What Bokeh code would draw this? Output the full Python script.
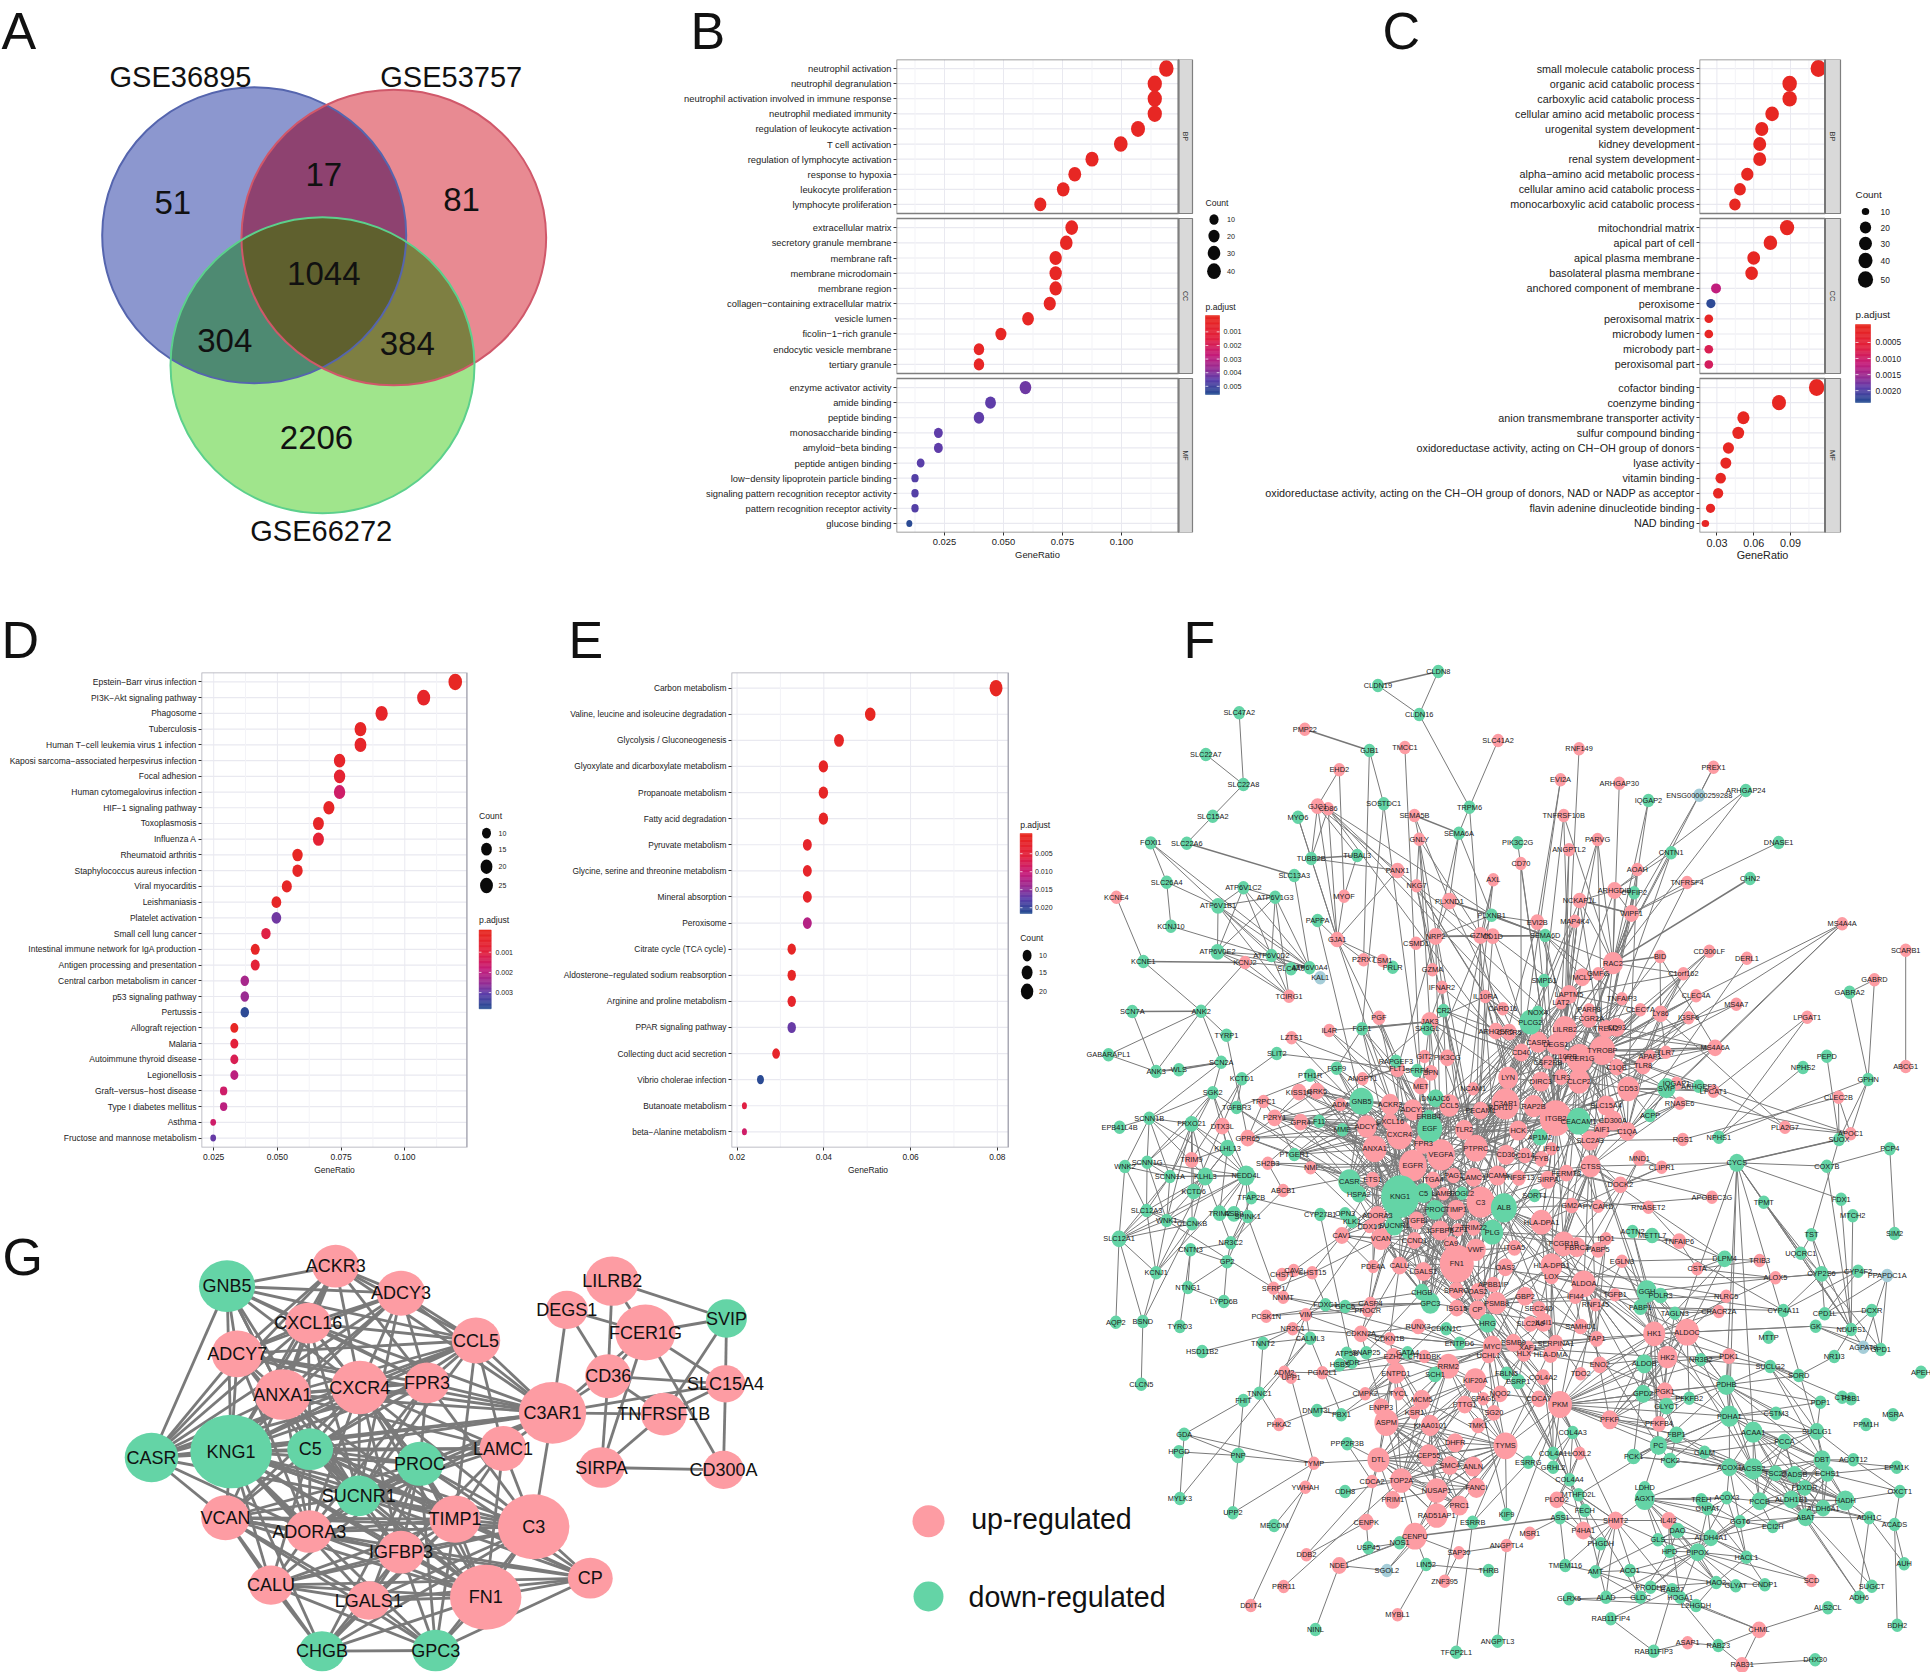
import numpy as np
from bokeh.plotting import figure
from bokeh.layouts import row, column
from bokeh.models import Range1d, FixedTicker, PrintfTickFormatter, LinearColorMapper, ColumnDataSource
from bokeh.core.properties import value
from bokeh.embed import file_html
from bokeh.resources import INLINE

FONT = "Liberation Sans"
M = "\u2212"

# ---------- panel A ----------
venn_sets = ["GSE36895", "GSE53757", "GSE66272"]
venn_only = [51, 81, 2206]
venn_pairs = [17, 304, 384]
venn_all = [1044]

# ---------- panel B ----------
b_bp = ["neutrophil activation", "neutrophil degranulation", "neutrophil activation involved in immune response",
        "neutrophil mediated immunity", "regulation of leukocyte activation", "T cell activation",
        "regulation of lymphocyte activation", "response to hypoxia", "leukocyte proliferation", "lymphocyte proliferation"]
b_bp_r = [.119, .1141, .1141, .1141, .107, .0997, .0875, .0802, .0753, .0656]
b_bp_c = [47, 45, 45, 45, 42, 39, 34, 32, 30, 26]
b_bp_p = [.0001, .0001, .0001, .0001, .0001, .0001, .0001, .0001, .0001, .0001]
b_cc = ["extracellular matrix", "secretory granule membrane", "membrane raft", "membrane microdomain", "membrane region",
        "collagen" + M + "containing extracellular matrix", "vesicle lumen", "ficolin" + M + "1" + M + "rich granule",
        "endocytic vesicle membrane", "tertiary granule"]
b_cc_r = [.0789, .0766, .0721, .0721, .0721, .0696, .0604, .0489, .0396, .0396]
b_cc_c = [31, 30, 28, 28, 28, 27, 24, 19, 16, 16]
b_cc_p = [.0001, .0001, .0001, .0001, .0001, .0001, .0001, .0001, .0002, .0002]
b_mf = ["enzyme activator activity", "amide binding", "peptide binding", "monosaccharide binding",
        "amyloid" + M + "beta binding", "peptide antigen binding", "low" + M + "density lipoprotein particle binding",
        "signaling pattern recognition receptor activity", "pattern recognition receptor activity", "glucose binding"]
b_mf_r = [.0593, .0445, .0396, .0224, .0224, .0149, .0125, .0125, .0125, .0101]
b_mf_c = [23, 18, 16, 9, 9, 6, 5, 5, 5, 4]
b_mf_p = [.0043, .0045, .0045, .0045, .0045, .0046, .0047, .0047, .0047, .0055]

# ---------- panel C ----------
c_bp = ["small molecule catabolic process", "organic acid catabolic process", "carboxylic acid catabolic process",
        "cellular amino acid metabolic process", "urogenital system development", "kidney development",
        "renal system development", "alpha" + M + "amino acid metabolic process", "cellular amino acid catabolic process",
        "monocarboxylic acid catabolic process"]
c_bp_r = [.1127, .0893, .0893, .075, .0666, .0649, .0649, .0548, .0488, .0447]
c_bp_c = [54, 43, 43, 36, 32, 31, 31, 26, 23, 21]
c_bp_p = [.00002, .00002, .00002, .00002, .00002, .00002, .00002, .00002, .00002, .00002]
c_cc = ["mitochondrial matrix", "apical part of cell", "apical plasma membrane", "basolateral plasma membrane",
        "anchored component of membrane", "peroxisome", "peroxisomal matrix", "microbody lumen", "microbody part", "peroxisomal part"]
c_cc_r = [.0872, .0736, .06, .0583, .0293, .0251, .0234, .0234, .0234, .0234]
c_cc_c = [42, 35, 29, 28, 14, 12, 11, 11, 11, 11]
c_cc_p = [.00002, .00002, .00005, .00005, .0012, .0023, .0001, .0001, .0008, .0009]
c_mf = ["cofactor binding", "coenzyme binding", "anion transmembrane transporter activity", "sulfur compound binding",
        "oxidoreductase activity, acting on CH" + M + "OH group of donors", "lyase activity", "vitamin binding",
        "oxidoreductase activity, acting on the CH" + M + "OH group of donors, NAD or NADP as acceptor",
        "flavin adenine dinucleotide binding", "NAD binding"]
c_mf_r = [.1113, .0806, .0516, .0474, .0394, .0373, .0331, .031, .0248, .0206]
c_mf_c = [53, 39, 25, 23, 19, 18, 16, 15, 12, 10]
c_mf_p = [.00002, .00002, .00002, .00002, .00005, .00005, .00005, .00005, .0001, .0001]

# ---------- panel D ----------
d_terms = ["Epstein" + M + "Barr virus infection", "PI3K" + M + "Akt signaling pathway", "Phagosome", "Tuberculosis",
           "Human T" + M + "cell leukemia virus 1 infection", "Kaposi sarcoma" + M + "associated herpesvirus infection",
           "Focal adhesion", "Human cytomegalovirus infection", "HIF" + M + "1 signaling pathway", "Toxoplasmosis",
           "Influenza A", "Rheumatoid arthritis", "Staphylococcus aureus infection", "Viral myocarditis", "Leishmaniasis",
           "Platelet activation", "Small cell lung cancer", "Intestinal immune network for IgA production",
           "Antigen processing and presentation", "Central carbon metabolism in cancer", "p53 signaling pathway", "Pertussis",
           "Allograft rejection", "Malaria", "Autoimmune thyroid disease", "Legionellosis", "Graft" + M + "versus" + M + "host disease",
           "Type I diabetes mellitus", "Asthma", "Fructose and mannose metabolism"]
d_count = [29, 26, 22, 20, 20, 18, 18, 18, 17, 16, 16, 14, 14, 13, 12, 12, 11, 10, 10, 9, 9, 9, 8, 8, 8, 8, 7, 7, 6, 6]
d_ratio = [.1198, .1074, .0909, .0826, .0826, .0744, .0744, .0744, .0702, .0661, .0661, .0579, .0579, .0537, .0496, .0496,
           .0455, .0413, .0413, .0372, .0372, .0372, .0331, .0331, .0331, .0331, .0289, .0289, .0248, .0248]
d_padj = [.0001, .0003, .0003, .0002, .0003, .0003, .0006, .0016, .0002, .0002, .0007, .0001, .0002, .0002, .0002, .0029,
          .0011, .0002, .0008, .0023, .0025, .0037, .0001, .0009, .0013, .0020, .0016, .0020, .0016, .0030]

# ---------- panel E ----------
e_terms = ["Carbon metabolism", "Valine, leucine and isoleucine degradation", "Glycolysis / Gluconeogenesis",
           "Glyoxylate and dicarboxylate metabolism", "Propanoate metabolism", "Fatty acid degradation", "Pyruvate metabolism",
           "Glycine, serine and threonine metabolism", "Mineral absorption", "Peroxisome", "Citrate cycle (TCA cycle)",
           "Aldosterone" + M + "regulated sodium reabsorption", "Arginine and proline metabolism", "PPAR signaling pathway",
           "Collecting duct acid secretion", "Vibrio cholerae infection", "Butanoate metabolism", "beta" + M + "Alanine metabolism"]
e_count = [22, 14, 12, 11, 11, 11, 10, 10, 10, 10, 9, 9, 9, 9, 8, 7, 6, 6]
e_ratio = [.0797, .0507, .0435, .0399, .0399, .0399, .0362, .0362, .0362, .0362, .0326, .0326, .0326, .0326, .029, .0254, .0217, .0217]
e_padj = [.0001, .0003, .001, .001, .001, .001, .002, .002, .002, .012, .001, .001, .002, .017, .002, .0212, .006, .009]

# ---------- panel G ----------
g_up = [("ACKR3", 657, 107, 92, 128), ("ADCY3", 785, 188, 95, 135), ("CXCL16", 603, 278, 90, 122), ("CCL5", 932, 330, 95, 138),
        ("ADCY7", 464, 370, 100, 140), ("ANXA1", 553, 492, 110, 152), ("CXCR4", 704, 471, 112, 160), ("FPR3", 836, 457, 88, 122),
        ("C3AR1", 1082, 547, 132, 185), ("LAMC1", 985, 654, 92, 135), ("VCAN", 441, 862, 95, 135), ("ADORA3", 605, 903, 90, 128),
        ("TIMP1", 891, 866, 100, 142), ("C3", 1045, 889, 140, 195), ("IGFBP3", 785, 965, 92, 128), ("CP", 1156, 1043, 88, 122),
        ("CALU", 530, 1064, 86, 118), ("LGALS1", 722, 1110, 85, 116), ("FN1", 951, 1100, 140, 195), ("LILRB2", 1199, 152, 105, 148),
        ("DEGS1", 1110, 238, 82, 115), ("FCER1G", 1264, 306, 118, 168), ("CD36", 1191, 437, 90, 132), ("SLC15A4", 1421, 460, 78, 112),
        ("TNFRSF1B", 1300, 551, 90, 128), ("SIRPA", 1178, 711, 90, 122), ("CD300A", 1417, 718, 80, 115)]
g_down = [("GNB5", 444, 167, 110, 155), ("CASR", 296, 681, 105, 148), ("KNG1", 452, 663, 160, 220), ("C5", 607, 656, 90, 125),
          ("PROC", 822, 700, 92, 132), ("SUCNR1", 702, 796, 88, 122), ("CHGB", 630, 1262, 90, 120), ("GPC3", 853, 1260, 92, 125),
          ("SVIP", 1423, 264, 80, 115)]
g_edges = ["GNB5: ACKR3 ADCY3 CXCL16 CCL5 ADCY7 ANXA1 CXCR4 FPR3 CASR KNG1 C5 SUCNR1",
           "ACKR3: ADCY3 CXCL16 CCL5 ADCY7 ANXA1 CXCR4 FPR3 C3AR1 CASR KNG1",
           "ADCY3: CXCL16 CCL5 ADCY7 ANXA1 CXCR4 FPR3 C3AR1 KNG1 CASR SUCNR1",
           "CXCL16: CCL5 ADCY7 ANXA1 CXCR4 FPR3 C3AR1 KNG1 C5 CASR SUCNR1 PROC",
           "CCL5: ADCY7 ANXA1 CXCR4 FPR3 C3AR1 KNG1 C5 SUCNR1 CASR LAMC1 TIMP1",
           "ADCY7: ANXA1 CXCR4 FPR3 C3AR1 CASR KNG1 C5 SUCNR1 ADORA3",
           "ANXA1: CXCR4 FPR3 C3AR1 CASR KNG1 C5 SUCNR1 ADORA3 VCAN TIMP1 LAMC1 FN1",
           "CXCR4: FPR3 C3AR1 KNG1 C5 SUCNR1 CASR ADORA3 VCAN TIMP1 LAMC1 IGFBP3 FN1 C3 PROC",
           "FPR3: C3AR1 KNG1 C5 SUCNR1 CASR ADORA3 C3 PROC",
           "C3AR1: C3 LAMC1 KNG1 C5 CASR PROC SUCNR1 ADORA3 DEGS1 FCER1G CD36 TNFRSF1B SLC15A4",
           "KNG1: CASR C5 PROC SUCNR1 VCAN ADORA3 TIMP1 C3 IGFBP3 FN1 CALU LGALS1 LAMC1 CP CHGB GPC3",
           "CASR: C5 VCAN SUCNR1 ADORA3",
           "C5: PROC SUCNR1 C3 ADORA3 VCAN TIMP1 FN1 IGFBP3 LAMC1 CALU CP",
           "PROC: SUCNR1 C3 TIMP1 FN1 IGFBP3 LAMC1 VCAN ADORA3 CALU LGALS1 CP GPC3 CHGB",
           "SUCNR1: VCAN ADORA3 TIMP1 C3 IGFBP3 FN1 LAMC1",
           "VCAN: ADORA3 TIMP1 C3 IGFBP3 FN1 CALU LGALS1 CHGB GPC3 CP",
           "ADORA3: TIMP1 C3 IGFBP3 FN1 CALU",
           "TIMP1: C3 IGFBP3 FN1 LAMC1 CALU LGALS1 CP GPC3 CHGB",
           "LAMC1: C3 FN1 IGFBP3",
           "C3: IGFBP3 FN1 CP CALU LGALS1 CHGB GPC3",
           "IGFBP3: FN1 CP CALU LGALS1 CHGB GPC3",
           "CP: FN1 CALU LGALS1 GPC3",
           "CALU: FN1 LGALS1 CHGB GPC3",
           "LGALS1: FN1 CHGB GPC3",
           "FN1: CHGB GPC3",
           "CHGB: GPC3",
           "LILRB2: SVIP FCER1G CD36",
           "DEGS1: FCER1G CD36",
           "FCER1G: SVIP CD36 CD300A SLC15A4 SIRPA",
           "SVIP: SLC15A4 TNFRSF1B",
           "CD36: SLC15A4 TNFRSF1B SIRPA",
           "SLC15A4: TNFRSF1B CD300A",
           "TNFRSF1B: SIRPA",
           "SIRPA: CD300A"]

# ---------- panel F ----------
f_down = [("CLDN8",638,93),("CLDN19",524,135),("CLDN16",602,222),("SLC47A2",262,217),("SLC22A7",199,342),("SLC22A8",270,432),
 ("SLC15A2",212,527),("SLC22A6",163,608),("FOXI1",95,607),("TUBB2B",398,654),("TUBAL3",485,645),("SLC13A3",366,705),
 ("SLC26A4",125,725),("ATP6V1C2",270,742),("ATP6V1G3",330,770),("ATP6V1B1",222,796,14),("KCNJ10",133,857),("ATP6V0E2",221,934,14),
 ("ATP6V0D2",323,945),("KCNE1",81,963),("SLC4A9",360,985),("ATP6V0A4",395,982),("ANK2",190,1112),("SCN7A",60,1113),("TYRP1",238,1184),
 ("GABARAPL1",15,1243),("SCN2A",228,1265),("ANK3",105,1293),("WLS",148,1288),("SLIT2",333,1239),("KCTD1",267,1315),("FGF9",446,1283),
 ("PTH1R",396,1304),("SGK2",212,1357),("TGFBR3",257,1401),("SCNN1B",92,1433),("FRXO21",172,1450,14),("EPB41L4B",36,1460),("KLHL13",240,1523,15),
 ("F11",413,1442),("MME",457,1468),("PTGER1",366,1542),("GNB5",493,1382,24),("SOSTDC1",535,490),("GJB1",508,330),("TRPM6",697,500),
 ("SEMA6A",677,578),("PIK3C2G",788,607),("CNTN1",1078,637),("IQGAP2",1035,480),("ARHGAP24",1219,450),
 ("DNASE1",1281,606),("CHN2",1227,714),("CYFIP2",1008,757),("PLXNB1",739,824),("SEMA6D",840,885),("SMPD1",838,1020),("PRLR",552,980),
 ("NOX4",826,1115),("CR2",648,1110),("PLCG2",812,1145,22),("FGF1",494,1165),("SH3GL",617,1165),("RAPGEF3",558,1262),("SFRP4",598,1290),
 ("DNAJC6",633,1373,16),("EGF",622,1464,25),("ERBB4",620,1428),("AP1M2",830,1490,15),("CEACAM1",903,1442,24),("SVIP",1069,1343,18),
 ("ARHGEF3",1130,1337),("ACPP",1038,1425),("NPHS1",1168,1490),("GABRA2",1415,1055),("GPHN",1450,1317),("NPHS2",1327,1281),("PEPD",1372,1247),
 ("SUOX",1395,1497),("PCP4",1491,1525),("PAPPA",410,840),("MYO6",373,530),
 ("CYCS",1202,1567,16),("SCNN1G",88,1565),("WNK2",46,1578),("SCNN1A",131,1608),("KLHL3",198,1608,16),("NEDD4L",275,1605,18),("CASR",470,1623,22),
 ("KCTD6",176,1653,14),("HSPA2",488,1661,15),("KNG1",566,1668,38),("C5",610,1658,18),("FOGL2",683,1658),("PROC",632,1708,18),("ALB",762,1702,26),
 ("SORT1",820,1665),("TFAP2B",285,1672),("SLC12A3",87,1710),("WNK1",125,1740),("CLCNKB",173,1750),("TRIM2",225,1718,14),("ASB9",252,1720,14),
 ("SPINK1",278,1728),("CYP27B1",415,1722),("OPN3",462,1720),("KLK1",475,1743),("SUCNR1",555,1755,18),("PLG",740,1775,22),("SLC12A1",35,1795,15),
 ("NR3C2",246,1807),("CNTN3",170,1828),("GP2",239,1864),("ACTN2",1005,1773),("METTL7",1042,1785,14),("KCNJ1",105,1897),("NTNG1",165,1941),
 ("LYPD6B",233,1983),("CHGB",607,1955,15),("GPC3",623,1988,19),("GPC5",462,1998),("GGH",1032,1953,20),("POLR3",1058,1965,14),("FABP1",1020,2000,14),
 ("FOXC1",425,1993),("AQP2",29,2045),("BSND",80,2043),("TYRO3",150,2058),("HRG",731,2048,17),("CDKN1C",653,2065),("TAGLN3",1085,2018),
 ("CYP4A11",1290,2010),("GK",1351,2057),("CPD1L",1368,2020),("NDUFS1",1418,2067),("DCXR",1457,2010),("CYP2S6",1362,1900,14),("CYP4F2",1431,1892),
 ("UQCRC1",1323,1838),("TST",1343,1783),("TPMT",1253,1685),("FDX1",1399,1676),("MTCH2",1421,1726),("SIM2",1500,1779),
 ("COX7B",1372,1577),("DLPM4",1179,1855,15),("HSD11B2",192,2133),("CLCN5",77,2231),("TNNT2",307,2108),("CALML3",396,2093),("ENTPD6",678,2108),
 ("ATP5B",465,2138),("SNAP25",502,2137),("VDR",475,2165),("HSBS",452,2173),("FBLN5",767,2198),("ESRP1",789,2223,14),("ALDOB",1027,2170,17),
 ("NR3B2",1134,2158),("SUCLG2",1265,2178),("SORD",1319,2205),("NR1I3",1386,2148),("GPD1",1474,2127),("MTTP",1262,2090),("APEH",1550,2195),
 ("TNNC1",300,2258),("FHIT",270,2280),("DNMT3L",409,2310),("PBX1",455,2323),("MSRA",1497,2323),("CTH",1401,2270),("P8B1",1418,2275),("PDP1",1360,2285),
 ("PPM1H",1446,2352),("CSTM3",1276,2318),("GPD2",1025,2260,16),("PFKFB2",1112,2273),("GLYCT",1069,2297,15),("PDHB",1182,2233,18),("PDHA1",1188,2327,19),
 ("SUCLG1",1353,2373,15),("ACAA1",1233,2375,19),("PCCA",1292,2403,14),("FBP1",1088,2383,15),("COL4A3",892,2376),("PC",1054,2415,17),("GALM",1141,2435),
 ("PCK1",1007,2448,14),("PCK2",1076,2460,14),("ACOX1",1188,2480,16),("ACSS2",1233,2485,19),("DBT",1363,2458,17),("ACOT12",1422,2458),("EPM1K",1504,2480),
 ("TSC22",1275,2498,14),("GADSB",1311,2502,15),("ECHS1",1373,2500,14),("FDXDR",1330,2542,14),("OXCT1",1510,2553),("COL4A1",855,2438),("GRHL2",855,2480),
 ("ESRRG",808,2465),("COL4A4",886,2518),("MTHFD2L",903,2563),("FECH",915,2610),("LDHD",1028,2542),("AGXT",1028,2575,20),("TREH",1135,2578),("GNPAT",1147,2605),
 ("ACOX3",1183,2572),("PCCB",1245,2582,16),("ALDH1B1",1305,2577,16),("HADH",1407,2580,18),("ALDH6A1",1365,2603,15),("ABAT",1332,2630,16),("ACADS",1500,2652),
 ("ADH1C",1452,2632),("GGT6",1208,2643),("ECI2H",1270,2658),("ALDH4A1",1153,2692,15),("DAO",1090,2670,14),("GLS",1053,2698),("HPD",1075,2732),("PIPOX",1128,2735,16),
 ("HACL1",1220,2750),("AUH",1518,2770),("SUGCT",1457,2837),("ADH6",1433,2870),("HAO2",1163,2826),("GLYAT",1200,2836),("CNDP1",1255,2833),("PRODH2",1039,2840),
 ("RAB27",1080,2848),("HOGA1",1095,2870),("L2HGDH",1125,2895),("GLDC",1020,2870),("GLRX5",885,2875),("ALAD",955,2870),("ACO1",1000,2790),("AMT",935,2794),
 ("TMEM116",878,2775),("PHGDH",945,2710),("ASS1",868,2632),("KIF9",767,2622),("ESRRB",703,2645),("HPGD",148,2434),("GDA",158,2381),("PNP",260,2445,14),
 ("MYLK3",150,2574),("UPP2",250,2617),("CDH8",462,2553),("MECOM",328,2655),("USP45",506,2722),("NOS1",565,2707),("LIN52",615,2772),("THRB",733,2790),
 ("ALS2CL",1374,2902),("RAB11FIP4",964,2935),("RAB11FIP3",1045,3032),("RAB23",1167,3015),("DHX30",1350,3058),("NINL",406,2967),("ANGPTL3",750,3002),
 ("TFCP2L1",672,3035),("BDH2",1505,2954),("PPP2R3B",466,2410),("SCH1",632,2202,14),("GATA4",580,2137)]
f_pale = [("ENSG00000259288",1131,464),("KAL1",415,1012),("PPAPDC1A",1486,1905),("AGPAT9",1441,2120),("SGOL2",541,2790)]
f_up = [("PMP22",386,266),("TMCC1",575,321),("SLC41A2",751,300),("RNF149",904,325),("PREX1",1158,380),("EHD2",451,388),("EVI2A",869,418),
 ("ARHGAP30",980,428),("GJC1",410,497,14),("CD86",430,505),("SEMA5B",593,525),("TNFRSF10B",875,525),("GNLY",602,596),("PARVG",939,597),("ANGPTL2",885,628),
 ("CD70",794,669),("AOAH",1014,687),("PANX1",561,690,14),("AXL",742,718),("TNFRSF4",1108,726),("NKG7",597,736),("ARHGDIB",971,750,15),("MYOF",460,767),("KCNE4",30,770),
 ("NCKAP1L",905,780,14),("PLXND1",659,782,15),("WIPF1",1003,819,15),("MAP4K4",896,842),("EVI2B",825,845,14),("MS4A4A",1401,850),("NRP2",633,888,15),("GZMK",718,885,15),
 ("CD1D",741,887,14),("GJA1",447,897,14),("CSMD1",596,908),("CD300LF",1150,932),("BID",1057,948),("P2RX7",497,958),("LSM1",533,960),("RAC2",968,968,20),("DERL1",1221,953),
 ("SCARB1",1521,929),("KCNJ2",273,966),("GZMA",627,988),("GMFG",940,1000),("C1orf162",1101,1000),("MCL1",910,1010,16),("GABRD",1462,1018),("TNFAIP3",985,1075),
 ("TCIRG1",356,1067),("IFNAR2",645,1040),("IL10RA",727,1068),("LAPTM5",885,1062,17),("CLEC4A",1125,1066),("LAT2",870,1087),("MS4A7",1201,1091),("CARD16",760,1105),
 ("PARP8",923,1108),("CLEC7A",1020,1108),("LY86",1058,1120,15),("IGSF6",1111,1132),("PGF",526,1132,13),("LPGAT1",1335,1130),("FCGR2A",923,1135,16),("LILRB2",877,1167,24),
 ("JAK3",622,1143,17),("IL4R",432,1170),("ARHGEF6",747,1172,15),("CXCR5",772,1175,15),("TREM2",955,1165,16),("CD93",975,1160,17),("LZTS1",361,1192),("CASP1",827,1205,19),
 ("DEGS1",860,1212,19),("TYROBP",948,1230,26),("TLR7",1068,1235),("MS4A6A",1161,1222,15),("CD40",795,1236,16),("APAF1",1038,1247),("IL10RB",877,1247),("FCER1G",905,1254,26),
 ("PIK3CG",655,1252,15),("GIT2",612,1248),("CSF2RB",845,1265),("TLR8",1025,1275,16),("FLT1",561,1285,15),("C1QB",975,1280,15),("SPN",624,1297,14),("LYN",770,1312,20),
 ("ABCG1",1521,1278),("TLR3",870,1310,14),("ANGPT1",495,1315),("DIRC3",832,1323,18),("CLCP2",904,1322,22),("MET",605,1337,15),("CD53",997,1345,22),("NCAM1",704,1345),
 ("KISS1R",375,1355,15),("GRK5",409,1352,15),("IQGAP1",1088,1328),("CLEC2B",1394,1370),("TRPC1",308,1383),("LPCAT1",1158,1352),("RNASE6",1094,1388),("ADM",453,1392),
 ("ACKR3",547,1392,19),("ADCY3",590,1408,19),("CCL5",659,1395,20),("C3AR1",765,1390,28),("RAP2B",818,1397,20),("RDH10",755,1402,15),("SLC15A4",955,1395,18),("PECAM1",718,1410,16),
 ("ITGB2",860,1433,32),("CD300A",968,1440,18),("P2RY1",329,1432,15),("GPR4",378,1445,15),("PLA2G7",1293,1460),("APOC1",1417,1480),("AIF1",948,1468,15),("ADCY7",503,1458,20),
 ("CXCL16",547,1443,15),("TLR2",687,1468,18),("GPR65",278,1493,15),("DTX3L",230,1457,15),("HCK",789,1470,18),("C1QA",995,1472,17),("CXCR4",565,1483,26),("RGS1",1100,1497),
 ("SLC2A3",925,1500,18),("FPR3",610,1510,18),("IFI16",852,1525),("ANXA1",518,1525,24),("PTPRC",709,1523,24),("VEGFA",643,1543,28),("TRIM9",172,1558,14),("MND1",1018,1553,14),
 ("CD36",766,1543,18),("CD14",802,1545,14),("FYB",833,1555,14),("SH2B3",316,1568),("NMI",397,1582),("EGFR",590,1575,28),("ITGA4",628,1618,15),("PAG1",667,1605,14),("LAMC1",705,1610,17),
 ("ICAM1",750,1605,18),("TNFSF13",790,1612,14),("CTSS",926,1577,20),("SIRPA",845,1618,16),("FERMT3",880,1598,15),("ETS1",514,1617,14),("DOCK2",982,1633,15),
 ("CLIPR1",1060,1580),("APOBEC3G",1155,1670),("ABCB1",345,1650),("LAMB1",648,1660),("C3",718,1685,28),("TIMP1",672,1708,18),("GM2A",890,1695,14),("PYCARD",940,1697),
 ("RNASET2",1035,1700),("ADORA3",523,1725,17),("TGFBI",597,1740,16),("CAV1",456,1785,15),("DDX10",508,1758),("VCAN",530,1795,20),("IKZF1",675,1768),("IGFBP3",642,1770,18),
 ("TRIM22",705,1762,14),("CCND1",593,1800,15),("CA9",662,1810,14),("VWF",709,1828,20),("ITGA5",782,1822,14),("HLA-DPA1",833,1745,22),("HLA-DPB1",852,1875,22),("FCGR1B",875,1810,22),
 ("FBRC2",900,1820,18),("FABP5",940,1828,14),("IDO1",955,1795),("TNFAIP6",1093,1802,14),("EGLN3",985,1862),("CSTA",1127,1885),("TRIB3",1245,1860),("ALOX5",1275,1912),("FN1",673,1870,34),
 ("LGALS1",610,1893,17),("CALU",565,1875,16),("PDE4A",515,1878),("OAS3",765,1880,16),("LOX",852,1908,14),("ALDOA",913,1930,24),("IFI44",897,1967,14),("TGFB1",972,1963),("RNF145",935,1993),
 ("NLRC5",1182,1967),("CRACR2A",1168,2013),("CHST15",400,1897),("CHST1",343,1902),("CAV2",365,1890),("SFRP1",327,1943),("NNMT",345,1970),("PSMB8",748,1988,20),("GBP2",802,1967,17),
 ("ISG15",673,2003,15),("CP",712,2008,17),("SPARC",672,1950,15),("OAS2",713,1953,15),("APBB1IP",742,1932,14),("CASP4",510,1988),("PROCR",505,2010),("SEC24D",828,2005,14),("IL4I1",837,2045,17),
 ("SLC2A6",812,2050,14),("SAMHD1",907,2058,14),("CDKN2A",492,2080,15),("RUNX3",600,2058,14),("TAP1",937,2095,14),("HK1",1046,2080,22),("ALDOC",1108,2075,24),("NR2C1",363,2065),("PCSK1N",313,2027),
 ("VIM",388,2023),("HK2",1071,2150,20),("PDK1",1187,2147,14),("CDKN1B",546,2095),("MYC",740,2117,19),("PSMB9",780,2107,16),("XAF1",808,2120),("SERPINA1",860,2108,15),("HLX",800,2140,14),
 ("HLA-DMA",850,2142,15),("UCHL1",733,2145,14),("EZH2",553,2148,15),("RRM2",657,2177,22),("ENO2",943,2173,15),("CH11DBK",612,2148),("COL4A2",836,2210,14),("TDO2",907,2200),("PGK1",1066,2252,16),
 ("ENTPD1",558,2198,19),("KIF20A",708,2220,22),("PGM2L1",419,2197),("ADM2",347,2195),("UPP1",360,2210),("CMPK2",500,2260),("TYCL",563,2260),("MCM5",607,2278,18),("PTTG1",688,2292,16),
 ("SPAG5",723,2275),("NQO2",755,2260,15),("CDCA7",828,2275,15),("PKM",868,2292,24),("ENPP3",530,2300,16),("KSR1",593,2317),("SG20",743,2317,14),("PHKA2",337,2352),("ASPM",540,2346,24),("KIAA0101",623,2355,19),
 ("TMK1",713,2355,14),("PFKP",962,2338,17),("PFKFB4",1055,2350,14),("DHFR",670,2407,17),("TYMS",765,2416,24),("DTL",525,2458,22),("CEP55",620,2445,20),("TYMP",403,2468),("SMC4",660,2475,17),
 ("ANLN",704,2478,18),("LOXL2",905,2438),("YWHAH",387,2540),("CDCA2",513,2523),("TOP2A",568,2520,22),("NUSAP1",635,2550,22),("FANCI",710,2542,18),("PRIM1",552,2578,16),("PRC1",678,2595,18),
 ("RAD51AP1",635,2625,22),("PLOD2",862,2578,15),("SHMT2",973,2640,16),("IL4I2",1073,2640,15),("P4HA1",912,2670,16),("CENPK",502,2645,15),("CENPU",594,2687,24),("MSR1",811,2678),("SAP30",677,2737),
 ("ANGPTL4",767,2715),("NDE1",451,2775,15),("DDB2",389,2743),("MYBL1",561,2923),("PRR11",346,2838),("DDIT4",284,2895),("SCD",1343,2820),("CHML",1244,2968,15),("RAB31",1212,3073,14),("ASAP1",1109,3007),
 ("ZNF395",650,2822)]
f_thick = [("CLDN8","CLDN19"),("KCNE1","KCNJ2"),("CENPU","ASS1"),("TUBB2B","TUBAL3"),("SCN7A","ANK2"),("WLS","SCN2A"),("FGF1","JAK3"),("RAC2","BID"),
 ("SEMA6D","NRP2"),("PLXNB1","SEMA6D"),("PLXND1","PLXNB1"),("SEMA5B","SEMA6A"),("PMP22","GJB1"),("MS4A6A","TYROBP"),("SVIP","IQGAP1"),("CYP2S6","CYP4F2"),("SUOX","CYCS"),("CHN2","RAC2"),
 ("NCKAP1L","WIPF1"),("SLC22A6","SLC13A3"),("ANGPT1","FLT1")]
f_edges = ["CLDN8: CLDN16","CLDN19: CLDN16","TRPM6: CLDN16 SLC41A2 ICAM1","SLC22A8: SLC47A2 SLC22A7 SLC15A2","SLC22A6: SLC15A2","SLC13A3: ATP6V0A4",
 "GJB1: P2RX7","FOXI1: SLC26A4 ATP6V1B1 ATP6V0A4","ATP6V1B1: SLC26A4 ATP6V1C2 ATP6V1G3 ATP6V0E2 ATP6V0D2 ATP6V0A4 SLC4A9 TCIRG1",
 "ATP6V1C2: ATP6V1G3 ATP6V0E2 ATP6V0D2 ATP6V0A4","ATP6V1G3: ATP6V0E2 ATP6V0D2 ATP6V0A4 TCIRG1","ATP6V0E2: ATP6V0D2 ATP6V0A4 KCNJ2 TCIRG1","ATP6V0D2: ATP6V0A4 TCIRG1 SLC4A9",
 "KCNJ10: SLC26A4 ATP6V0A4","KCNE1: KCNE4 ANK2","KCNJ2: ANK2 TCIRG1 ATP6V0A4","ANK2: ANK3 GABARAPL1 SCN2A","ANK3: SCN7A GABARAPL1 WLS SCN2A","TYRP1: ANK2 GPR65",
 "SCN2A: SGK2 SCNN1B","SGK2: SCNN1B KLHL13 FRXO21 SCNN1G SCNN1A NEDD4L TGFBR3","SCNN1B: WNK2 SCNN1G SCNN1A KLHL3 EPB41L4B FRXO21 NEDD4L",
 "FRXO21: KLHL13 SCNN1G SCNN1A KLHL3 NEDD4L TRIM9 KCTD6 WNK1 CLCNKB","KLHL13: KLHL3 NEDD4L TRIM9 DTX3L KCTD6 TRIM2","SCNN1G: WNK2 SCNN1A SLC12A3 KLHL3 NEDD4L WNK1","WNK2: SCNN1A SLC12A3 SLC12A1",
 "SCNN1A: KLHL3 NEDD4L SLC12A3 WNK1 SLC12A1","KLHL3: NEDD4L WNK1 SLC12A3 SLC12A1 CLCNKB KCNJ1","NEDD4L: TFAP2B WNK1 SLC12A1 ASB9 TRIM2 SPINK1 KCNJ1","SLC12A3: SLC12A1 WNK1 CLCNKB KCNJ1","WNK1: SLC12A1 CLCNKB KCNJ1",
 "SLC12A1: CLCNKB KCNJ1 AQP2 BSND","CLCNKB: KCNJ1 BSND","KCNJ1: BSND","BSND: CLCN5 KCNJ1","CNTN3: GP2 NR3C2 NTNG1 TYRO3","GP2: LYPD6B NTNG1 NR3C2 SPINK1","NTNG1: LYPD6B","NR3C2: SPINK1 TFAP2B KLHL3",
 "TUBB2B: GJC1 CD86 MYO6 GJA1","TUBAL3: GJC1 MYOF","PANX1: GJC1 GJA1 NKG7 TUBB2B","GJC1: GJA1 EHD2 TUBAL3","CD86: PLXNB1 GJA1 TUBB2B SLC15A4 ITGB2 LILRB2","MYOF: EHD2 GJA1","GJA1: P2RX7 LSM1 EGFR VEGFA PAPPA MYO6",
 "PAPPA: ADCY7","SOSTDC1: GJB1 FGF1 MET","TMCC1: MET","SEMA5B: GNLY","GNLY: NKG7 GZMA GZMK JAK3 PTPRC","SEMA6A: PLXNB1 PLXND1 NRP2","TRPM6: SEMA6A","NKG7: GZMK GZMA PTPRC CD40 IL10RA","PLXND1: NRP2 SEMA6D ITGB2 SEMA5B",
 "PLXNB1: NRP2 SEMA6D MET EVI2B","NRP2: GZMK CD1D VEGFA VWF FLT1 SEMA6D","GZMK: CD1D PTPRC LYN","CD1D: SEMA6D ITGB2 PTPRC LAPTM5","CSMD1: NRP2","SEMA6D: RAC2 MCL1 ITGB2 TNFAIP3 LILRB2","CD70: CD40 ITGB2","AXL: GZMK VEGFA TIMP1",
 "PIK3C2G: ITGB2","RNF149: LILRB2","TNFRSF10B: RAC2 CASP1 LAPTM5","EVI2A: EVI2B CD40","ARHGAP30: RAC2","IQGAP2: WIPF1 RAC2","ENSG00000259288: WIPF1 PREX1","ARHGAP24: RAC2 ARHGDIB","DNASE1: WIPF1","CNTN1: RAC2 ARHGDIB TYROBP","PREX1: RAC2",
 "AOAH: CD53 TYROBP","TNFRSF4: WIPF1 TYROBP","ANGPTL2: ITGB2 LILRB2","PARVG: RAC2 NCKAP1L TYROBP LILRB2","NCKAP1L: ARHGDIB RAC2 ITGB2 WIPF1 PTPRC LILRB2 LAPTM5 TYROBP","MAP4K4: ITGB2 LYN CASP1","EVI2B: PTPRC FCER1G ITGB2",
 "ARHGDIB: CYFIP2 RAC2 WIPF1 LILRB2","CYFIP2: RAC2 WIPF1 TYROBP","WIPF1: RAC2 FCER1G ITGB2 TYROBP","RAC2: MCL1 GMFG FCER1G TYROBP ITGB2 HCK LILRB2 LAPTM5 C1orf162","BID: MS4A6A LY86 FCER1G","CD300LF: TYROBP FCER1G LY86","C1orf162: TYROBP LY86 LAPTM5 C1QB CD53",
 "DERL1: C1QA","MS4A4A: LY86 C1QA C1QB MS4A6A","CLEC4A: TYROBP FCER1G CD53","MS4A7: TYROBP C1QB","LPGAT1: NPHS1 LPCAT1","GABRD: GPHN","GABRA2: GABRD GPHN","GPHN: APOC1 NPHS1","NPHS2: NPHS1","PEPD: SUOX","SCARB1: ABCG1","PCP4: COX7B","CLEC2B: SUOX APOC1 RGS1",
 "PLA2G7: APOC1 LPCAT1 LY86","APOC1: SUOX CD53 TYROBP","SUOX: GPHN CYCS","LPCAT1: SVIP CD53 TYROBP","MS4A6A: FCER1G C1QA C1QB LILRB2 CD53 CD93","LY86: TLR7 FCER1G C1QA CD53 TYROBP","IGSF6: TYROBP FCER1G CD53 C1QB",
 "TLR7: TYROBP TLR8 CD53 FCER1G C1QB","TLR8: TYROBP FCER1G C1QA CD53 ITGB2 CLCP2","CLEC7A: TYROBP FCER1G ITGB2 HCK LILRB2 LAPTM5","TNFAIP3: CD40 TLR2 ICAM1 PTPRC","GMFG: LAPTM5 TYROBP","MCL1: LAPTM5 ITGB2 PTPRC EGFR",
 "LAPTM5: FCER1G TYROBP LILRB2 ITGB2 CASP1 CD53 LYN HCK","LAT2: FCER1G LYN PTPRC PLCG2","PARP8: TYROBP","FCGR2A: FCER1G TYROBP ITGB2 LILRB2 LYN HCK CD53 PTPRC","LILRB2: FCER1G TYROBP ITGB2 CD53 C1QB LYN HCK CASP1 PTPRC TLR2 CD14 SLC15A4 CLCP2 DEGS1 CD36",
 "PLCG2: LYN PTPRC EGF EGFR ITGB2 FCER1G CD40 NOX4 KNG1 CASR","NOX4: CASP1 VEGFA FN1 EGFR","CR2: PTPRC C3 CD40 FCER1G","IFNAR2: JAK3 ISG15 CD40","IL10RA: IL10RB JAK3 CD40 PTPRC HCK FCER1G ITGB2 LYN","JAK3: PTPRC EGF EGFR IL4R PIK3CG CD40 LYN VEGFA SH3GL",
 "FGF1: EGF EGFR FLT1 KNG1 FGF9","IL4R: JAK3 PTPRC VEGFA","PGF: VEGFA FLT1 EGFR","FLT1: VEGFA EGFR EGF KNG1 FN1 RAPGEF3","FGF9: EGFR KNG1 EGF FN1","SLIT2: KCTD1 SFRP4","LZTS1: MET EGFR","PTH1R: GNB5 KNG1 ADCY7","KCTD1: KCTD6 TRIM9 TGFBR3",
 "KISS1R: GNB5 P2RY1 ADCY7 CXCR4 KNG1 GRK5","GRK5: GNB5 P2RY1 ADCY3 CXCR4 CXCL16 KNG1","ADM: CALU GNB5 VEGFA","TRPC1: P2RY1 GPR65 EGFR","TGFBR3: FN1 TGFBI FGF9","P2RY1: GNB5 GPR4 ADCY7 ADCY3 CXCR4 ANXA1 KNG1 CXCL16 GPR65 PTGER1","GPR4: GNB5 ADCY7 ANXA1 CXCR4 KNG1 CASR",
 "GPR65: GNB5 ADCY7 CXCR4 KNG1 PTGER1","PTGER1: GNB5 ADCY7 CXCR4 KNG1 CASR ANXA1 ADCY3 ACKR3 C3AR1","GNB5: ACKR3 ADCY3 CXCL16 CCL5 ADCY7 ANXA1 CXCR4 FPR3 CASR KNG1 C5 SUCNR1 EGF F11 MME","F11: KNG1 C5 EGF PLG ALB","MME: KNG1 EGF ALB ANXA1","ERBB4: EGF EGFR VEGFA DNAJC6",
 "DNAJC6: ALB EGF","ACKR3: ADCY3 CXCL16 CCL5 ADCY7 ANXA1 CXCR4 FPR3 C3AR1 CASR KNG1","ADCY3: CXCL16 CCL5 ADCY7 ANXA1 CXCR4 FPR3 C3AR1 KNG1 CASR SUCNR1","CCL5: ADCY7 ANXA1 CXCR4 FPR3 C3AR1 KNG1 C5 SUCNR1 CASR LAMC1 TIMP1 EGF VEGFA ITGB2 PTPRC CD40 TLR2 ICAM1",
 "ADCY7: ANXA1 CXCR4 FPR3 C3AR1 CASR KNG1 C5 SUCNR1 ADORA3","CXCL16: CXCR4 ANXA1 C3AR1 KNG1 C5","ANXA1: CXCR4 FPR3 C3AR1 CASR KNG1 C5 SUCNR1 ADORA3 VCAN TIMP1 LAMC1 FN1 EGFR EGF","CXCR4: FPR3 C3AR1 KNG1 C5 SUCNR1 CASR ADORA3 VCAN TIMP1 LAMC1 IGFBP3 FN1 C3 PROC VEGFA EGF EGFR PTPRC HCK",
 "FPR3: C3AR1 KNG1 C5 SUCNR1 ADORA3 C3 PROC ITGB2","C3AR1: C3 LAMC1 KNG1 C5 CASR PROC SUCNR1 ADORA3 DEGS1 FCER1G CD36 SLC15A4 ITGB2 ALB HCK TYROBP","KNG1: CASR C5 PROC SUCNR1 VCAN ADORA3 TIMP1 C3 IGFBP3 FN1 CALU LGALS1 LAMC1 CHGB GPC3 ALB PLG EGF EGFR VEGFA HRG CP",
 "CASR: C5 VCAN SUCNR1 ADORA3 ALB HSPA2","C5: PROC SUCNR1 C3 ADORA3 VCAN TIMP1 FN1 IGFBP3 LAMC1 CALU","PROC: SUCNR1 C3 TIMP1 FN1 IGFBP3 LAMC1 VCAN ADORA3 CALU LGALS1 GPC3 CHGB ALB PLG","SUCNR1: VCAN ADORA3 TIMP1 C3 IGFBP3 FN1 LAMC1","VCAN: ADORA3 TIMP1 C3 IGFBP3 FN1 CALU LGALS1 CHGB GPC3 CAV1 TGFBI",
 "ADORA3: TIMP1 C3 IGFBP3 FN1 CALU","TIMP1: C3 IGFBP3 FN1 LAMC1 CALU LGALS1 CP GPC3 CHGB VEGFA EGFR ALB VWF","LAMC1: C3 FN1 IGFBP3 ITGA4 ICAM1 SPARC VWF","C3: IGFBP3 FN1 CP CALU LGALS1 CHGB GPC3 ALB PLG VWF ITGB2 ICAM1 HRG HLA-DPA1 HLA-DPB1 CTSS","IGFBP3: FN1 CP CALU LGALS1 CHGB GPC3 EGF EGFR VEGFA",
 "FN1: CHGB GPC3 CP CALU LGALS1 ALB PLG VWF EGFR EGF VEGFA ITGB2 ITGA4 ITGA5 SPARC TGFBI ICAM1 LOX CAV1 SERPINA1 COL4A1 COL4A2 COL4A3 COL4A4 MYC","CP: LGALS1 CALU GPC3 ALB HRG","CALU: LGALS1 CHGB GPC3 VEGFA ALB","LGALS1: CHGB GPC3 SPARC","CHGB: GPC3",
 "ALB: PLG HRG EGF EGFR VEGFA CTSS ITGB2 VWF ALDOA APOH SERPINA1 CP GGH FABP1 PC","PLG: HRG VWF SERPINA1 APOH ITGB2 FABP5 FN1","EGF: EGFR VEGFA ITGB2 PTPRC FN1 MET LYN TLR2","EGFR: VEGFA MYC CAV1 ITGA4 MET CCND1 CDKN2A FLT1 HLX ICAM1 ITGB2 PTPRC LYN PLG SPARC CDKN1B TGFBI VIM",
 "VEGFA: ITGB2 ICAM1 PTPRC CD36 MYC ITGA5 ITGA4 VWF CCND1 CAV1 HK1 HK2 MET LOX PECAM1 TLR2","PTPRC: ITGB2 TLR2 CD14 CD36 CD40 LYN HCK ICAM1 ITGA4 FYB PECAM1 LAMC1 RAC2 CD53 C1QB IKZF1 DOCK2","ITGB2: TYROBP FCER1G CLCP2 CD53 HCK LYN ICAM1 CD14 TLR2 CD36 FYB AIF1 C1QA C1QB CTSS CD300A SLC15A4 CEACAM1 RAP2B ITGA4 DOCK2 HLA-DPA1 HLA-DPB1 SIRPA FCGR1B",
 "TYROBP: FCER1G CD53 C1QA C1QB AIF1 CTSS CD300A SLC15A4 HCK CLCP2 CEACAM1 SVIP CD93 TREM2 FCGR1B HLA-DPA1","FCER1G: CD53 C1QA C1QB AIF1 CD300A SLC15A4 HCK LYN SVIP TREM2 FCGR1B CEACAM1 CLCP2 CTSS HLA-DPB1","CD53: C1QA C1QB SVIP ACPP CLCP2 CD300A CTSS HCK","TLR2: CD14 HCK CD36 LYN ICAM1 FYB C3AR1 TLR3","CD14: C1QA HCK CD36 LYN FYB",
 "HCK: LYN FYB CD36 AIF1 C1QA","LYN: FYB CD40 RAP2B PECAM1 C3AR1","DIRC3: CLCP2 LYN","TLR3: IL10RB CD40","CSF2RB: IL10RB JAK3","CD40: ICAM1 TLR2 CASP1 ITGB2 IKZF1","CASP1: DEGS1 TYROBP ICAM1 AIF1","SVIP: ACPP ARHGEF3 CD53 C1QA SLC15A4 ITGB2 FCER1G","ACPP: CD53 RNASE6","RNASE6: SVIP C1QA CTSS","RGS1: SLC2A3","AIF1: CTSS C1QA","C1QA: C1QB CTSS SLC2A3",
 "CEACAM1: CD300A SIRPA ITGB2","SLC2A3: ITGB2 HK1 ALDOA HK2 MYC","IFI16: ISG15 OAS2 SIRPA","ICAM1: ITGA4 ITGA5 VWF CTSS PSMB8 HLA-DPA1 PECAM1 VCAN","DOCK2: CTSS FERMT3 HLA-DPB1","MND1: CENPU CLIPR1 TYMS","CLIPR1: DOCK2 HLA-DPA1","COX7B: CYCS NDUFS1","CYCS: DOCK2 APOH UQCRC1 NDUFS1 PDHA1 SUCLG1 TPMT CTSS HK2 PDHB ACAA1 FDX1",
 "TPMT: NDUFS1 UQCRC1 GPD1","FDX1: NDUFS1 CYCS","MTCH2: NDUFS1","TST: UQCRC1 NDUFS1 SUOX","UQCRC1: NDUFS1 CYP2S6","SIM2: PCP4","CYP2S6: CYP4A11 ALOX5 CPD1L TST","CYP4F2: CYP4A11 PPAPDC1A CPD1L ALOX5","PPAPDC1A: AGPAT9 GPD1 CPD1L","AGPAT9: GPD1 GK NDUFS1","GPD1: DCXR GK","DCXR: NDUFS1 CPD1L","GK: NDUFS1 HK1 ALDOC GPD1","NR1I3: NDUFS1 SORD","SORD: SUCLG2 ALDOC PDHB",
 "CYP4A11: FABP1 GGH METTL7","METTL7: TNFAIP6 ACTN2","ACTN2: HK2 GGH","GGH: HK1 HK2 ALDOA PC POLR3 FABP1 TAGLN3 ACSS2","POLR3: PDHB FABP1","TNFAIP6: CSTA DLPM4 RNASET2 PLG","EGLN3: ALDOA HK2 HK1 PKM ALDOC DLPM4","TRIB3: DLPM4 CSTA","ALOX5: CSTA LOX GGH HK1","DLPM4: CSTA HK1 ALDOC","TGFB1: HK1 LOX ALDOA","IFI44: OAS3 ISG15 RNF145","NLRC5: ALDOC HLA-DPB1 PSMB8","CRACR2A: HK1 FABP1 TAGLN3",
 "HK1: ALDOA ALDOC HK2 PKM PDK1 ENO2 PFKP GPD2 PGK1 PDHB PDHA1 PC MYC","ALDOC: ALDOA HK2 PKM PFKP ENO2 PGK1 GPD2 PFKFB2 PDHB PDHA1","HK2: ALDOA PKM PDK1 ENO2 PFKP GPD2 PGK1 PFKFB4 ALDOB PDHB MYC","PDK1: PDHB PDHA1 ALDOB PKM SUCLG2 NR3B2","ALDOA: PKM ENO2 PFKP HLA-DPB1 LOX GPD2 ALDOB PGK1 TAP1","ALDOB: PKM FBP1 PGK1 PCK1 GLYCT","PKM: ENO2 PFKP PGK1 GPD2 PFKFB2 PFKFB4 TYMS MYC CDCA7 PDHA1 FBP1 PC SHMT2 ACSS2 HRG COL4A3",
 "PFKP: PFKFB4 PGK1 FBP1 GPD2","PFKFB4: PFKFB2 PGK1 GLYCT","GPD2: PGK1 GLYCT PFKFB2 PDHB","PGK1: GLYCT ENO2 PDHB PDHA1","FBP1: PC PCK1 PCK2 GLYCT ACSS2 ACOX1","PC: PCK1 PCK2 PDHB PDHA1 ACSS2 ACOX1 GALM ACAA1 MTHFD2L","PCK1: PCK2 PDHA1 ACSS2","PCK2: ACSS2 ACOX1 PDHA1","GALM: ACSS2 PCCA","PDHB: PDHA1 ACAA1 CSTM3 SUCLG2 SUCLG1 ACSS2 PDP1 DBT GLYCT","PDHA1: ACAA1 CSTM3 SUCLG1 ACSS2 PDP1 DBT ACOX1 PCCA",
 "ACAA1: SUCLG1 PCCA ACOX1 ACSS2 TSC22 GADSB ECHS1 DBT HADH PCCB ABAT","SUCLG1: SUCLG2 PCCA DBT PDP1 ACOT12 ACSS2 ECHS1","SUCLG2: NR3B2 PDP1 SUCLG1 CTH DBT","PCCA: DBT PCCB ACSS2 GADSB ABAT","ACOX1: ACSS2 ACOX3 TSC22 GADSB ECHS1 PCCB AGXT HADH ALDH1B1 ABAT ACAA1","ACSS2: TSC22 GADSB DBT ECHS1 FDXDR ALDH1B1 PCCB HADH ABAT ALDH6A1","DBT: ECHS1 GADSB FDXDR ACOT12 HADH ALDH1B1 ALDH6A1 EPM1K TSC22",
 "TSC22: GADSB ECHS1 FDXDR PCCB HADH ALDH1B1","GADSB: ECHS1 FDXDR HADH ALDH6A1 ABAT ALDH1B1","ECHS1: FDXDR HADH ALDH6A1 ABAT ALDH1B1 EPM1K OXCT1","FDXDR: HADH ALDH1B1 ALDH6A1 ABAT PCCB","HADH: OXCT1 ALDH1B1 ALDH6A1 ABAT ADH1C PCCB","ALDH1B1: ALDH6A1 ABAT PCCB ALDH4A1 ADH1C","ALDH6A1: ABAT PCCB ECI2H ACADS","ABAT: PCCB ECI2H GGT6 ADH1C ALDH4A1","OXCT1: ACADS ACOT12","ACADS: BDH2 AUH","ADH1C: ADH6 AUH","SUGCT: HADH ALDH1B1","ADH6: ABAT ALDH1B1",
 "PCCB: ECI2H ALDH4A1 ACOX3","ACOX3: TREH AGXT ECI2H HACL1 GNPAT PIPOX","AGXT: TREH GNPAT LDHD HPD PIPOX DAO ALDH4A1 SHMT2 GLS GGT6 HAO2 ACOX3","LDHD: AGXT PC","TREH: GNPAT GGT6","GNPAT: PIPOX ALDH4A1 HACL1","GGT6: ECI2H ALDH4A1 PIPOX","ALDH4A1: DAO PIPOX GLS HPD HACL1 PRODH2","DAO: GLS PIPOX HPD AMT HAO2","GLS: HPD SHMT2 PIPOX","HPD: PIPOX HAO2 GLDC","PIPOX: HACL1 HAO2 GLYAT PRODH2 CNDP1 HOGA1 SCD","HACL1: HAO2 CNDP1 ACOX1","HAO2: GLYAT PRODH2 HOGA1 CNDP1 L2HGDH",
 "PRODH2: HOGA1 GLDC AMT","SHMT2: AMT GLDC PHGDH ASS1 P4HA1 IL4I2 ALAD RAB27","AMT: GLDC TMEM116 PHGDH ACO1","IL4I2: DAO HPD HOGA1","P4HA1: PLOD2 COL4A4 PHGDH","PLOD2: LOXL2 COL4A4 P4HA1 FECH","FECH: ALAD MTHFD2L HRG","MTHFD2L: SHMT2 GLDC COL4A4","COL4A4: COL4A1 COL4A3 COL4A2 LOXL2","COL4A3: COL4A1 COL4A2 LOXL2 GRHL2","COL4A1: COL4A2 LOXL2 SPARC LOX","ESRRG: PKM ESRRB","GRHL2: PKM","HOGA1: RAB27 L2HGDH CHML","L2HGDH: RAB27 CHML GLRX5","RAB27: RAB11FIP4 RAB23","RAB11FIP4: RAB11FIP3","RAB11FIP3: RAB27 ASAP1","ASAP1: RAB23","RAB23: CHML","RAB31: CHML DHX30 RAB23","CHML: ALS2CL","GLRX5: GLDC","ALAD: PIPOX","ACO1: PIPOX HAO2","TMEM116: SHMT2 ASS1","PHGDH: ASS1","SCD: IL4I2 PIPOX",
 "KIF9: TYMS KIF20A","ESRRB: TFCP2L1 TYMS","MSR1: ASS1","ANGPTL4: PKM SAP30 ANGPTL3","SAP30: CENPU ZNF395","THRB: LIN52","ZNF395: PRC1","LIN52: CENPU MYBL1","USP45: NOS1 CENPK","NOS1: CENPU NDE1","NDE1: SGOL2 CENPU NINL","SGOL2: CENPU TYMS","DDB2: CENPK CDCA2","PRR11: TOP2A","DDIT4: YWHAH","YWHAH: MECOM TYMP","CDH8: TOP2A","TYMP: PNP DTL UPP2 UPP1","PNP: GDA UPP2 HPGD","GDA: FHIT MYLK3 TYMP","FHIT: PNP TNNC1","TNNC1: TNNT2 CALML3","TNNT2: CALML3 NR2C1","HSD11B2: NR2C1","CALML3: PBX1 MYLK3 VIM","PHKA2: DNMT3L TNNC1","DNMT3L: MYC PBX1","PBX1: MYC ENTPD1","PPP2R3B: CDCA2 DTL",
 "DTL: TOP2A CEP55 SMC4 ANLN ASPM KIAA0101 NUSAP1 FANCI PRC1 RAD51AP1 MCM5 TYMS RRM2 KIF20A EZH2 DHFR PTTG1 CDCA2 PRIM1 CENPK","TOP2A: CEP55 SMC4 ANLN ASPM KIAA0101 NUSAP1 FANCI PRC1 RAD51AP1 MCM5 TYMS RRM2 KIF20A EZH2 DHFR PTTG1 CDCA2 PRIM1 CENPU","ASPM: CEP55 SMC4 ANLN KIAA0101 NUSAP1 FANCI PRC1 MCM5 TYMS RRM2 KIF20A EZH2 DHFR PTTG1 ENPP3 CDKN2A","KIAA0101: CEP55 SMC4 ANLN NUSAP1 FANCI PRC1 RAD51AP1 MCM5 TYMS RRM2 KIF20A EZH2 DHFR PTTG1",
 "TYMS: CEP55 SMC4 ANLN NUSAP1 FANCI PRC1 RAD51AP1 MCM5 RRM2 KIF20A DHFR PTTG1 SG20 CDCA7 SHMT2 CENPU UCHL1","NUSAP1: CEP55 SMC4 ANLN FANCI PRC1 RAD51AP1 CENPU PRIM1","CEP55: SMC4 ANLN FANCI PRC1 KIF20A","RRM2: KIF20A MCM5 EZH2 PTTG1 CDKN2A MYC UCHL1 CH11DBK","KIF20A: MCM5 EZH2 PTTG1 SPAG5 UCHL1 NQO2 FBLN5","MYC: CDKN2A EZH2 UCHL1 PSMB9 HLX TAP1 CCND1 ENO2 HK2 CDCA7 NQO2 SCH1 FBLN5","CDKN2A: EZH2 CCND1 CDKN1B MYC RUNX3 ENTPD6","EZH2: ENTPD1 CDKN1B CMPK2 GATA4 MCM5","ENTPD1: KSR1 ENPP3 CMPK2 TYCL",
 "PSMB8: PSMB9 TAP1 HLA-DMA OAS2 ISG15 GBP2 OAS3 HLA-DPA1 HLA-DPB1 CP ICAM1 XAF1","PSMB9: TAP1 HLA-DMA XAF1 GBP2 HLX","HLA-DPA1: HLA-DPB1 FCGR1B HLA-DMA CTSS FBRC2 LOX ITGA5","HLA-DPB1: FCGR1B HLA-DMA CTSS FBRC2 SEC24D","FCGR1B: FBRC2 CTSS GBP2 IFI44 OAS3 RNF145","CTSS: SIRPA FERMT3 TAP1 LOX GM2A PYCARD RNASET2","SERPINA1: HLA-DMA HLX LOX","IL4I1: SLC2A6 SEC24D SAMHD1 PSMB9","SAMHD1: OAS3 ISG15 TAP1 IFI44","ISG15: OAS2 OAS3 CP GBP2 XAF1","OAS2: OAS3 CP APBB1IP SPARC",
 "SPARC: VWF CCND1 ITGA5 ITGA4 TGFBI","VWF: ITGA5 ITGA4 PLG CA9 IKZF1","CAV1: CAV2 CCND1 CHST15 ITGA4 ETS1 DDX10 PDE4A","CAV2: CHST1 NNMT","CHST1: CHST15","CHST15: SFRP1 VCAN FOXC1","SFRP1: NNMT WNK1 SPINK1","NNMT: GPC5 ENTPD6","FOXC1: GPC5 GPC3 VIM","GPC5: GPC3 PROCR CASP4","VIM: NR2C1 CDKN2A PROCR","PCSK1N: CHGB GPC3","PROCR: CASP4 PDE4A KNG1","PDE4A: ETS1 LAMB1 ADORA3","ETS1: HSPA2 EGFR MYC","HSPA2: KNG1 CASR EGF","TGFBI: CCND1 IGFBP3 ETS1","ITGA4: ITGA5 LAMB1 PAG1 TIMP1","KLK1: KNG1 OPN3 CYP27B1 DDX10","CYP27B1: VDR TFAP2B","VDR: HSBS ATP5B","SNAP25: ATP5B CHGB","HSBS: ATP5B GATA4","ABCB1: EGFR NR3C2 SH2B3","SH2B3: EGFR JAK3 NMI","NMI: EGFR C3 ISG15","APOH: PLG ALB CLIPR1 APOBEC3G","APOBEC3G: CTSS PYCARD","PYCARD: CASP1 TLR2 GM2A","GM2A: HLA-DPB1 ALB","RNASET2: CTSS DLPM4 SORT1",
 "SORT1: ALB PLG","FERMT3: ITGB2 ITGA4","IKZF1: PTPRC CD40","PAG1: FYB LYN","TNFSF13: ICAM1 CD40","COL4A2: CP SPARC","TDO2: IDO1 IL4I1","IDO1: FABP5 TAP1 CP","FABP5: ALB GM2A","HRG: PLG C3 CP CDKN1C","CDKN1C: RUNX3 ENTPD6 MYC","ENTPD6: RUNX3 HRG","ESRP1: FBLN5 HLX","FBLN5: HLX","COL4A3: PKM","SG20: UCHL1 TMK1","PTTG1: SPAG5 TMK1 SG20","CDCA7: TMK1 NQO2","KSR1: MCM5 TYCL","CMPK2: ISG15 TYCL","PGM2L1: ADM2 CMPK2 HK1 GATA4","ADM2: UPP1 VIM","NR2C1: CALML3 CDKN2A","TAGLN3: HK2"]

PINK, GREEN, PALE = "#FD9CA3", "#64D4A6", "#A5CDD8"
PAL_ANCH = [(0, (232, 40, 30)), (.28, (226, 32, 62)), (.5, (198, 28, 122)), (.68, (150, 45, 148)), (.82, (92, 62, 170)), (1, (38, 76, 146))]
def make_palette(n=256):
    xs = [a[0] for a in PAL_ANCH]
    out = []
    for t in np.linspace(0, 1, n):
        rgb = [int(round(np.interp(t, xs, [a[1][k] for a in PAL_ANCH]))) for k in range(3)]
        out.append("#%02x%02x%02x" % tuple(rgb))
    return out
PAL = make_palette()

def base(w, h, xr, yr, hide=True, **kw):
    p = figure(width=w, height=h, x_range=Range1d(*xr), y_range=Range1d(*yr), output_backend="svg", toolbar_location=None, **kw)
    p.grid.visible = False
    p.outline_line_color = None
    if hide:
        p.axis.visible = False
    return p

def txt(p, x, y, s, size, align="left", base_="middle", color="#222222", angle=0):
    p.text(x=[x], y=[y], text=[s], text_font=value(FONT), text_font_size=size, text_align=align, text_baseline=base_, text_color=color, angle=angle)

# transparent sheet over the whole page: panel letters and the x axis titles, in page pixels
sheet = base(1930, 1672, (0, 1930), (1672, 0), min_border=0, background_fill_alpha=0, border_fill_alpha=0)
def letter(s, x, y):
    txt(sheet, x, y, s, "52px", color="#111111")

def dot_panel(fig, frame, ticks_px, ticks_val, ticks, fmt, facets, strip, size, lowhigh, bar, leg, count_vals, cbar_ticks, cbar_fmt, fonts, axis_xy, let, border):
    x0f, x1f, y0f, y1f = fig
    left, right, top, bottom = frame
    k = (ticks_val[1] - ticks_val[0]) / (ticks_px[1] - ticks_px[0])
    X = lambda px: ticks_val[0] + (px - ticks_px[0]) * k
    p = base(x1f - x0f, y1f - y0f, (X(left), X(x1f)), (bottom, top), hide=False,
             min_border_left=int(round(left - x0f)), min_border_right=0, min_border_top=int(round(top - y0f)), min_border_bottom=int(round(y1f - bottom)))
    rows, names = [], []
    recs = []
    for (t, b, terms, ratio, cnt, padj, sname) in facets:
        pitch = (b - t) / (len(terms) + .2)
        ys = [round(t + (i + .6) * pitch, 2) for i in range(len(terms))]
        rows += ys
        names += terms
        recs.append((t, b, ys, ratio, cnt, padj, sname))
    mapper = LinearColorMapper(palette=PAL, low=lowhigh[0], high=lowhigh[1])
    step = ticks[1] - ticks[0]
    mins = [ticks[0] - step / 2 + i * step for i in range(len(ticks) + 1)]
    for (t, b, ys, ratio, cnt, padj, sname) in recs:
        p.segment(x0=[X(left)] * len(ys), x1=[X(right)] * len(ys), y0=ys, y1=ys, line_color="#E9E9F0", line_width=1.2)
        p.segment(x0=ticks, x1=ticks, y0=[t] * len(ticks), y1=[b] * len(ticks), line_color="#E9E9F0", line_width=1)
        mm = [m for m in mins if X(left) < m < X(right)]
        p.segment(x0=mm, x1=mm, y0=[t] * len(mm), y1=[b] * len(mm), line_color="#F3F3F7", line_width=1)
    wmin, wmax, hmin, hmax, cmin, cmax = size
    sc = lambda c: np.sqrt(max(c - cmin, 0) / (cmax - cmin))
    for (t, b, ys, ratio, cnt, padj, sname) in recs:
        src = ColumnDataSource(dict(x=ratio, y=ys, p=padj, w=[wmin + (wmax - wmin) * sc(c) for c in cnt], h=[hmin + (hmax - hmin) * sc(c) for c in cnt]))
        p.ellipse(x="x", y="y", width="w", height="h", width_units="screen", height_units="screen", source=src,
                  fill_color={"field": "p", "transform": mapper}, line_color=None)
        if strip:
            p.quad(left=[X(right)], right=[X(strip)], top=[t], bottom=[b], fill_color="#D9D9D9", line_color=border, line_width=1.2)
            p.segment(x0=[X(right)], x1=[X(right)], y0=[t], y1=[b], line_color="#444444", line_width=1.5)
            txt(p, X((right + strip) / 2), (t + b) / 2, sname, fonts[3], align="center", angle=-np.pi / 2, color="#333333")
        p.quad(left=[X(left)], right=[X(right)], top=[t], bottom=[b], fill_color=None, line_color=border, line_width=1.5)
    p.xaxis.ticker = FixedTicker(ticks=ticks)
    p.xaxis.formatter = PrintfTickFormatter(format=fmt)
    p.yaxis.ticker = FixedTicker(ticks=rows)
    p.yaxis.major_label_overrides = {r: n for r, n in zip(rows, names)}
    for ax in (p.xaxis[0], p.yaxis[0]):
        ax.axis_line_color = None
        ax.major_tick_in = 0
        ax.major_tick_out = 3
        ax.major_tick_line_color = "#333333"
        ax.minor_tick_line_color = None
        ax.major_label_text_font = FONT
        ax.major_label_text_color = "#222222"
        ax.major_label_standoff = 2
        ax.major_label_text_font_size = fonts[0]
    p.xaxis[0].major_label_standoff = 3
    txt(sheet, axis_xy[0], axis_xy[1], "GeneRatio", fonts[0], align="center")
    letter(let[0], let[1], let[2])
    cx, ctitle_y, cy_list, nx = leg
    txt(p, X(bar[0]), ctitle_y, "Count", fonts[1])
    for c, cy in zip(count_vals, cy_list):
        p.ellipse(x=[X(cx)], y=[cy], width=[wmin + (wmax - wmin) * sc(c)], height=[hmin + (hmax - hmin) * sc(c)], width_units="screen", height_units="screen", fill_color="#0A0A0A", line_color=None)
        txt(p, X(nx), cy, str(c), fonts[2])
    bx0, bx1, by0, by1, lx, pty = bar
    txt(p, X(bx0), pty, "p.adjust", fonts[1])
    n = 64
    edges = np.linspace(by0, by1, n + 1)
    cols = [PAL[int(i * 255 / (n - 1))] for i in range(n)]
    p.quad(left=[X(bx0)] * n, right=[X(bx1)] * n, top=list(edges[:-1]), bottom=list(edges[1:]), fill_color=cols, line_color=cols, line_width=.5)
    for v in cbar_ticks:
        yy = by0 + (v - lowhigh[0]) / (lowhigh[1] - lowhigh[0]) * (by1 - by0)
        w = (bx1 - bx0) * .2
        p.segment(x0=[X(bx0), X(bx1 - w)], x1=[X(bx0 + w), X(bx1)], y0=[yy, yy], y1=[yy, yy], line_color="#FFFFFF", line_width=.7)
        txt(p, X(lx), yy, cbar_fmt % v, fonts[2])
    return p

# ---- A ----
pA = base(680, 610, (0, 680), (532, 59), min_border_left=0, min_border_right=0, min_border_top=59, min_border_bottom=78)
circ = [(253.7, 234.7, 304, 296), (393.3, 237, 304.7, 295.7), (322, 364.7, 304, 296)]
fills = ["#8C97CF", "#E88A92", "#A0E58C"]
strokes = ["#5565AE", "#D0586A", "#5CD08C"]
def ring(c, n=720):
    t = np.linspace(0, 2 * np.pi, n, endpoint=False)
    return np.c_[c[0] + c[2] / 2 * np.cos(t), c[1] + c[3] / 2 * np.sin(t)]
def inside(pts, c):
    return ((pts[:, 0] - c[0]) / (c[2] / 2)) ** 2 + ((pts[:, 1] - c[1]) / (c[3] / 2)) ** 2 <= 1
def region(idx):
    pts = []
    for i in idx:
        r = ring(circ[i])
        keep = np.ones(len(r), bool)
        for j in idx:
            if j != i:
                keep &= inside(r, circ[j])
        pts.append(r[keep])
    pts = np.vstack(pts)
    c = pts.mean(axis=0)
    o = np.argsort(np.arctan2(pts[:, 1] - c[1], pts[:, 0] - c[0]))
    return pts[o]
for c, f in zip(circ, fills):
    pA.ellipse(x=[c[0]], y=[c[1]], width=[c[2]], height=[c[3]], fill_color=f, line_color=None)
for idx, f in [((0, 1), "#8E4270"), ((0, 2), "#4E8A72"), ((1, 2), "#7E7F42"), ((0, 1, 2), "#5F602E")]:
    r = region(idx)
    pA.patch(x=r[:, 0], y=r[:, 1], fill_color=f, line_color=None)
for c, s in zip(circ, strokes):
    pA.ellipse(x=[c[0]], y=[c[1]], width=[c[2]], height=[c[3]], fill_color=None, line_color=s, line_width=2)
for s, x, y in zip(venn_sets, [180, 450.7, 320.7], [76.7, 76.7, 530]):
    txt(sheet, x, y, s, "29px", "center", color="#111111")
for s, x, y in zip(venn_only + venn_pairs + venn_all, [172.3, 461, 316, 323.3, 224.3, 406.7, 323.3], [201.7, 199.3, 436.7, 174.3, 340, 342.7, 272.7]):
    txt(pA, x, y, str(s), "33px", "center", color="#111111")
letter("A", 1, 30)

# ---- B ----
pB = dot_panel((680, 1250, 0, 610), (896, 1178, 59, 532), (944, 1121), (.025, .1), [.025, .05, .075, .1], "%.3f",
               [(59, 213, b_bp, b_bp_r, b_bp_c, b_bp_p, "BP"), (218, 373, b_cc, b_cc_r, b_cc_c, b_cc_p, "CC"), (378, 532, b_mf, b_mf_r, b_mf_c, b_mf_p, "MF")],
               1192, (6, 14.5, 7, 16.5, 4, 47), (-.0002, .0056), (1205, 1219, 315, 394, 1223, 306),
               (1213.5, 202.5, [219, 235.6, 252.5, 270.7], 1226.5), [10, 20, 30, 40], [.001, .002, .003, .004, .005], "%.3f",
               ("9.4px", "8.6px", "7.2px", "7px"), (1037, 554), ("B", 690, 30), "#7F7F7F")

# ---- C ----
pC = dot_panel((1250, 1930, 0, 610), (1699, 1824.5, 59, 532), (1716.4, 1753.2), (.03, .06), [.03, .06, .09], "%.2f",
               [(59, 213, c_bp, c_bp_r, c_bp_c, c_bp_p, "BP"), (218, 373, c_cc, c_cc_r, c_cc_c, c_cc_p, "CC"), (378, 532, c_mf, c_mf_r, c_mf_c, c_mf_p, "MF")],
               1840, (7.5, 15.5, 7, 17, 10, 54), (-.00006, .00237), (1855, 1870, 324, 402, 1875, 314),
               (1865, 193.6, [211, 227, 243, 260, 279], 1880), [10, 20, 30, 40, 50], [.0005, .001, .0015, .002], "%.4f",
               ("10.8px", "9.9px", "8.4px", "7.5px"), (1762, 554), ("C", 1382, 30), "#7F7F7F")

# ---- D ----
pD = dot_panel((0, 560, 610, 1230), (201, 466.4, 671, 1147), (213.2, 404.3), (.025, .1), [.025, .05, .075, .1], "%.3f",
               [(671, 1147, d_terms, d_ratio, d_count, d_padj, "")], None, (5.7, 13.6, 6.9, 16.5, 6, 29), (-.0001, .0038),
               (478.6, 490.7, 929, 1008, 495, 919), (486, 814.6, [832, 848, 865.6, 884.5], 498), [10, 15, 20, 25], [.001, .002, .003], "%.3f",
               ("8.5px", "8.6px", "7px", "7px"), (334, 1169), ("D", 1, 639), "#A9A9B4")

# ---- E ----
pE = dot_panel((560, 1100, 610, 1230), (728, 1007, 672, 1147), (733.6, 996), (.02, .08), [.02, .04, .06, .08], "%.2f",
               [(672, 1147, e_terms, e_ratio, e_count, e_padj, "")], None, (5, 12.9, 7, 16.5, 6, 22), (-.0006, .0216),
               (1019, 1031, 833, 913, 1034, 824), (1026, 937.5, [955, 972, 991], 1038), [10, 15, 20], [.005, .01, .015, .02], "%.3f",
               ("8.4px", "8.6px", "7px", "7px"), (867.5, 1169), ("E", 568, 639), "#A9A9B4")

# ---- G ----
def parse_edges(lines):
    out = []
    for ln in lines:
        a, rest = ln.split(":")
        for b in rest.split():
            out.append((a.strip(), b))
    return out

pG = base(900, 442, (0, 900 * 1.96), (1326, 0), min_border=0)
gpos = {t[0]: t for t in g_up + g_down}
ge = [e for e in parse_edges(g_edges) if e[0] in gpos and e[1] in gpos]
pG.segment(x0=[gpos[a][1] for a, b in ge], y0=[gpos[a][2] for a, b in ge], x1=[gpos[b][1] for a, b in ge], y1=[gpos[b][2] for a, b in ge],
           line_color="#7A7A7A", line_width=2.8)
for lst, col in ((g_up, PINK), (g_down, GREEN)):
    pG.ellipse(x=[t[1] for t in lst], y=[t[2] for t in lst], width=[t[3] for t in lst], height=[t[4] for t in lst], fill_color=col, line_color=None)
all_g = g_up + g_down
pG.text(x=[t[1] for t in all_g], y=[t[2] for t in all_g], text=[t[0] for t in all_g], text_font=value(FONT), text_font_size="18px",
        text_align="center", text_baseline="middle", text_color="#111111")
letter("G", 2, 1256)

# ---- F ----
FX, FY = 1.889, 3.0
U = lambda X_: (X_ - 1100) * FX
V = lambda Y_: (Y_ - 640) * FY
pF = base(1030, 1062, (U(900), U(1930)), (V(1672), V(610)), min_border=0, background_fill_alpha=0, border_fill_alpha=0)
fpos = {t[0]: t for t in f_up + f_down + f_pale}
fe = []
seen = set()
for a, b in parse_edges(f_edges):
    if a in fpos and b in fpos and a != b and (a, b) not in seen and (b, a) not in seen:
        seen.add((a, b))
        fe.append((a, b))
pF.segment(x0=[fpos[a][1] for a, b in fe], y0=[fpos[a][2] for a, b in fe], x1=[fpos[b][1] for a, b in fe], y1=[fpos[b][2] for a, b in fe],
           line_color="#7A7A7A", line_width=1)
ft = [e for e in f_thick if e[0] in fpos and e[1] in fpos]
pF.segment(x0=[fpos[a][1] for a, b in ft], y0=[fpos[a][2] for a, b in ft], x1=[fpos[b][1] for a, b in ft], y1=[fpos[b][2] for a, b in ft],
           line_color="#777777", line_width=1.5)
for lst, col in ((f_up, PINK), (f_down, GREEN), (f_pale, PALE)):
    d = [t[3] if len(t) > 3 else 12 for t in lst]
    pF.ellipse(x=[t[1] for t in lst], y=[t[2] for t in lst], width=d, height=[v * 1.12 for v in d], width_units="screen", height_units="screen", fill_color=col, line_color=None)
all_f = f_up + f_down + f_pale
pF.text(x=[t[1] for t in all_f], y=[t[2] for t in all_f], text=[t[0] for t in all_f], text_font=value(FONT), text_font_size="7.4px",
        text_align="center", text_baseline="middle", text_color="#1A1A1A")
pF.ellipse(x=[U(928), U(928)], y=[V(1520.7), V(1596)], width=[32, 30], height=[32, 30], width_units="screen", height_units="screen", fill_color=[PINK, GREEN], line_color=None)
txt(pF, U(970.7), V(1518), "up-regulated", "28.6px", color="#111111")
txt(pF, U(968), V(1596.7), "down-regulated", "28.6px", color="#111111")
letter("F", 1183, 639)

left_col = column(row(pD, pE, spacing=0), pG, spacing=0)
pF.margin = (0, 0, 0, -200)
sheet.margin = (-1672, 0, 0, 0)
root = column(row(pA, pB, pC, spacing=0), row(left_col, pF, spacing=0), sheet, spacing=0)
open("out.html", "w").write(file_html(root, INLINE))
